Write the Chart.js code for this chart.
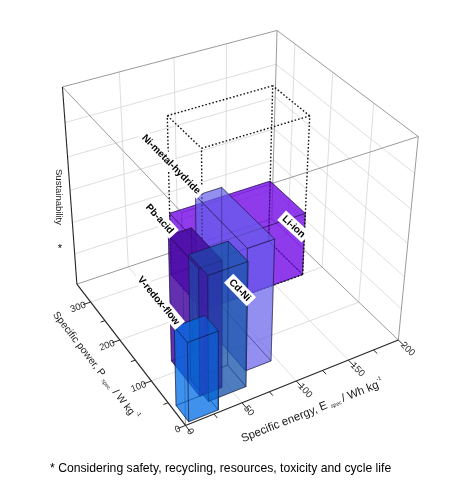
<!DOCTYPE html>
<html><head><meta charset="utf-8">
<script src="https://cdn.jsdelivr.net/npm/chart.js@4.4.1/dist/chart.umd.min.js"></script>
<style>html,body{margin:0;padding:0;background:#fff}#wrap{width:452px;height:482px;position:relative}</style>
</head><body><div id="wrap"><canvas id="c"></canvas></div>
<script>
// ---------------- data ----------------
const categories     = ['V-redox-flow', 'Pb-acid', 'Cd-Ni', 'Ni-metal-hydride', 'Li-ion'];
const energyMin      = [4, 25, 28, 71, 78];       // Wh/kg
const energyMax      = [30, 45, 62, 95, 179];
const powerMin       = [4, 40, 25, 53, 199];      // W/kg
const powerMax       = [40, 123, 76, 195, 300];
const sustainability = [2.4, 3.8, 3.75, 3.7, 2.0];
const liIonPotential = 4.95;                       // dotted box (Li-ion)
const energyTicks    = [0, 50, 100, 150, 200];
const powerTicks     = [0, 100, 200, 300];
const energyRange    = [0, 200];
const powerRange     = [0, 350];
const sustainRange   = [0, 6];
const sustainGrid    = [1, 2, 3, 4, 5];

// ---------------- layout / style ----------------
const FONT = '"Liberation Sans", Arial, Helvetica, sans-serif';
const boxColors = ['rgba(0,110,230,0.5)', 'rgba(70,10,160,0.6)', 'rgba(25,85,170,0.52)', 'rgba(100,95,235,0.45)', 'rgba(115,10,230,0.55)'];
// camera calibration: 3D frame points -> page position (E, P, Z, px, py)
const CAMERA_FIT = [
  [0,0,0,187,425.5],[50,0,0,243.3,401.7],[100,0,0,296.7,380.7],[150,0,0,348.3,360.7],[200,0,0,398,340],
  [0,100,0,148.3,380.7],[0,200,0,118.3,340.7],[0,300,0,90,302.7],[0,350,0,78.8,284],
  [0,350,3,70.7,190],[0,350,6,62.3,87],[200,350,6,276.7,30],[200,0,6,418.3,137.3],[200,0,3,408,243.3]
];

function fitCamera(){
  const A=[], b=[];
  for (const [E,P,Z,X,Y] of CAMERA_FIT){
    const u=E/energyRange[1], v=P/powerRange[1], w=Z/sustainRange[1];
    A.push([u,v,w,1,0,0,0,0,-X*u,-X*v,-X*w]); b.push(X);
    A.push([0,0,0,0,u,v,w,1,-Y*u,-Y*v,-Y*w]); b.push(Y);
  }
  const n=11, M=[...Array(n)].map(()=>Array(n+1).fill(0));
  for (let r=0;r<A.length;r++) for (let i=0;i<n;i++){ for (let j=0;j<n;j++) M[i][j]+=A[r][i]*A[r][j]; M[i][n]+=A[r][i]*b[r]; }
  for (let i=0;i<n;i++){
    let p=i; for (let k=i+1;k<n;k++) if (Math.abs(M[k][i])>Math.abs(M[p][i])) p=k;
    [M[i],M[p]]=[M[p],M[i]];
    for (let k=0;k<n;k++) if (k!==i){ const f=M[k][i]/M[i][i]; for (let j=i;j<=n;j++) M[k][j]-=f*M[i][j]; }
  }
  return M.map((row,i)=>row[n]/row[i]);
}
const cam = fitCamera();
function proj(E,P,Z){
  const u=E/energyRange[1], v=P/powerRange[1], w=Z/sustainRange[1], m=cam;
  const den=m[8]*u+m[9]*v+m[10]*w+1;
  return {x:(m[0]*u+m[1]*v+m[2]*w+m[3])/den, y:(m[4]*u+m[5]*v+m[6]*w+m[7])/den, d:den};
}

// ---------------- datasets ----------------
const layers = [];   // in drawing order (first = bottom)
function line3(pts, color, width, dash){
  layers.push({type:'line', data:pts.map(p=>{const q=proj(...p); return {x:q.x,y:q.y};}),
    borderColor:color, borderWidth:width, borderDash:dash||[], pointRadius:0, fill:false, tension:0});
}
const GRID='#d6d6d6', FRAME='#8e8e8e', AX='#262626';
const [E0,E1]=energyRange, [P0,P1]=powerRange, [Z0,Z1]=sustainRange;
// floor grid
[50,100,150].forEach(e=>line3([[e,P0,0],[e,P1,0]],GRID,0.8));
[100,200,300].forEach(p=>line3([[E0,p,0],[E1,p,0]],GRID,0.8));
// back-left wall (P = max)
[50,100,150].forEach(e=>line3([[e,P1,Z0],[e,P1,Z1]],GRID,0.8));
sustainGrid.forEach(z=>line3([[E0,P1,z],[E1,P1,z]],GRID,0.8));
// back-right wall (E = max)
[100,200,300].forEach(p=>line3([[E1,p,Z0],[E1,p,Z1]],GRID,0.8));
sustainGrid.forEach(z=>line3([[E1,P0,z],[E1,P1,z]],GRID,0.8));
// frame
[[[E0,P1,Z1],[E1,P1,Z1]],[[E1,P1,Z1],[E1,P0,Z1]],[[E0,P1,Z1],[E0,P0,Z1]],[[E1,P0,Z1],[E0,P0,Z1]],
 [[E1,P1,Z0],[E1,P1,Z1]],[[E1,P0,Z0],[E1,P0,Z1]],[[E0,P0,Z0],[E0,P0,Z1]],
 [[E0,P1,Z0],[E1,P1,Z0]],[[E1,P1,Z0],[E1,P0,Z0]]].forEach(s=>line3(s,FRAME,0.9));
line3([[E0,P1,Z0],[E0,P1,Z1]],AX,1.1);
// axes + ticks
line3([[E0,P0,0],[E1,P0,0]],AX,1.2);
line3([[E0,P0,0],[E0,P1,0]],AX,1.2);
for (let e=0;e<=E1;e+=25) line3([[e,0,0],[e,e%50===0?-16:-9,0]],AX,1);
for (let p=0;p<=300;p+=50) line3([[0,p,0],[p%100===0?-7:-4,p,0]],AX,1);

// boxes (sorted back to front)
const items=[];
function addFace(c, color){
  const q=c.map(p=>proj(...p));
  const d=q.reduce((s,a)=>s+a.d,0)/q.length;
  items.push({d, ds:{type:'line', data:[...q,q[0]].map(a=>({x:a.x,y:a.y})), fill:'shape',
    backgroundColor:color, borderColor:'rgba(15,15,40,0.6)', borderWidth:0.7, pointRadius:0, tension:0}});
}
function corners(e0,e1,p0,p1,z0,z1){
  return [
    [[e0,p0,z0],[e1,p0,z0],[e1,p1,z0],[e0,p1,z0]],
    [[e0,p0,z1],[e1,p0,z1],[e1,p1,z1],[e0,p1,z1]],
    [[e0,p0,z0],[e1,p0,z0],[e1,p0,z1],[e0,p0,z1]],
    [[e0,p1,z0],[e1,p1,z0],[e1,p1,z1],[e0,p1,z1]],
    [[e0,p0,z0],[e0,p1,z0],[e0,p1,z1],[e0,p0,z1]],
    [[e1,p0,z0],[e1,p1,z0],[e1,p1,z1],[e1,p0,z1]]];
}
categories.forEach((name,i)=>{
  corners(energyMin[i],energyMax[i],powerMin[i],powerMax[i],0,sustainability[i]).forEach(f=>addFace(f,boxColors[i]));
});
// dotted potential box for Li-ion
{
  const i=categories.indexOf('Li-ion');
  const e0=energyMin[i], e1=energyMax[i], p0=powerMin[i], p1=powerMax[i], z1=liIonPotential;
  const edges=[];
  [0,z1].forEach(z=>{edges.push([[e0,p0,z],[e1,p0,z]],[[e1,p0,z],[e1,p1,z]],[[e1,p1,z],[e0,p1,z]],[[e0,p1,z],[e0,p0,z]]);});
  [[e0,p0],[e1,p0],[e1,p1],[e0,p1]].forEach(([e,p])=>edges.push([[e,p,0],[e,p,z1]]));
  edges.forEach(s=>{
    const a=proj(...s[0]), b=proj(...s[1]);
    items.push({d:(a.d+b.d)/2-0.001, ds:{type:'line', data:[{x:a.x,y:a.y},{x:b.x,y:b.y}], borderColor:'#111',
      borderWidth:1.4, borderDash:[1.6,2.0], pointRadius:0, fill:false, tension:0}});
  });
}
items.sort((a,b)=>b.d-a.d).forEach(it=>layers.push(it.ds));
layers.forEach((ds,k)=>{ds.order=-k;});

// ---------------- texts ----------------
const labelPlacement = {
  'V-redox-flow':    {corner:'topLeft'},
  'Pb-acid':         {corner:'topLeft'},
  'Ni-metal-hydride':{corner:'topLeft'},
  'Cd-Ni':           {corner:'topRight', dx:-8, dy:28.5},
  'Li-ion':          {corner:'topRight', dx:-11.5, dy:13}
};
function rich(ctx, parts, cx, cy, angle){
  ctx.save(); ctx.translate(cx,cy); ctx.rotate(angle);
  let total=0;
  parts.forEach(p=>{ctx.font=`${p.s}px ${FONT}`; p.w=ctx.measureText(p.t).width; total+=p.w;});
  let x=-total/2; ctx.textBaseline='middle'; ctx.fillStyle='#1a1a1a';
  parts.forEach(p=>{ctx.font=`${p.s}px ${FONT}`; ctx.fillText(p.t,x,p.dy||0); x+=p.w;});
  ctx.restore();
}
function dirAngle(a,b){ return Math.atan2(b.y-a.y,b.x-a.x); }
const textPlugin = {
  id:'texts',
  afterDraw(chart){
    const ctx=chart.ctx, sx=chart.scales.x, sy=chart.scales.y;
    const P=(E,Pw,Z)=>{const q=proj(E,Pw,Z); return {x:sx.getPixelForValue(q.x), y:sy.getPixelForValue(q.y)};};
    ctx.save();
    // energy tick labels
    ctx.fillStyle='#2a2a2a'; ctx.font=`9.5px ${FONT}`; ctx.textBaseline='middle';
    energyTicks.forEach(e=>{
      const a=P(e,-9,0), b=P(e,-30,0);
      ctx.save(); ctx.translate(a.x,a.y); ctx.rotate(dirAngle(a,b)); ctx.textAlign='left'; ctx.fillText(String(e),0,0); ctx.restore();
    });
    // power tick labels
    powerTicks.forEach(p=>{
      const a=P(-5,p,0), b=P(20,p,0);
      ctx.save(); ctx.translate(a.x,a.y); ctx.rotate(dirAngle(a,b)); ctx.textAlign='right'; ctx.fillText(String(p),0,1); ctx.restore();
    });
    // axis titles
    {
      const a=P(100,0,0), b=P(140,0,0);
      rich(ctx,[{t:'Specific energy, E',s:11.5},{t:'  spec ',s:5.5,dy:3},{t:'/ Wh kg',s:11.5},{t:'-1',s:5.5,dy:-5}],a.x+16,a.y+30,dirAngle(a,b));
    }
    {
      const a=P(0,175,0), b=P(0,140,0);
      rich(ctx,[{t:'Specific power, P',s:10.3},{t:'  spec ',s:5.5,dy:3},{t:' / W kg',s:10.3},{t:' -1',s:5.5,dy:-5}],a.x-32,a.y+16,dirAngle(a,b));
    }
    // sustainability title
    ctx.save(); ctx.translate(59,197); ctx.rotate(Math.PI/2); ctx.font=`9.5px ${FONT}`; ctx.fillStyle='#1a1a1a';
    ctx.textAlign='center'; ctx.textBaseline='middle'; ctx.fillText('Sustainability',0,0); ctx.restore();
    ctx.font=`11px ${FONT}`; ctx.textAlign='center'; ctx.fillStyle='#000'; ctx.fillText('*',60,249);
    // battery labels
    categories.forEach((name,i)=>{
      const lp=labelPlacement[name];
      const e0=energyMin[i], e1=energyMax[i], p0=powerMin[i], p1=powerMax[i], z=sustainability[i];
      const c = lp.corner==='topLeft' ? [e0,p1,z] : [e1,p0,z];
      const a=P(c[0],c[1],c[2]), b=P(c[0],c[1]-25,c[2]);
      const ang=dirAngle(a,b);
      ctx.font=`bold 10px ${FONT}`;
      const w=ctx.measureText(name).width, pad=3;
      let cx, cy;
      if (lp.corner==='topLeft'){
        const L=w/2+pad-3, S=5;
        cx=a.x-Math.cos(ang)*L+Math.sin(ang)*S; cy=a.y-Math.sin(ang)*L-Math.cos(ang)*S;
      } else { cx=a.x+lp.dx; cy=a.y+lp.dy; }
      ctx.save(); ctx.translate(cx,cy); ctx.rotate(ang);
      ctx.fillStyle='#fff'; ctx.fillRect(-w/2-pad,-6.5,w+2*pad,13);
      ctx.fillStyle='#000'; ctx.textAlign='center'; ctx.textBaseline='middle'; ctx.fillText(name,0,0.5);
      ctx.restore();
    });
    // footnote
    ctx.font=`12.2px ${FONT}`; ctx.fillStyle='#000'; ctx.textAlign='left'; ctx.textBaseline='middle';
    ctx.fillText('* Considering safety, recycling, resources, toxicity and cycle life',50,469);
    ctx.restore();
  }
};

new Chart(document.getElementById('c'), {
  type:'line',
  data:{datasets:layers},
  options:{
    responsive:true, maintainAspectRatio:false, animation:false, events:[],
    layout:{padding:0},
    scales:{x:{type:'linear',min:0,max:452,display:false}, y:{type:'linear',min:0,max:482,reverse:true,display:false}},
    plugins:{legend:{display:false}, tooltip:{enabled:false}},
    elements:{line:{borderJoinStyle:'miter'}}
  },
  plugins:[textPlugin]
});
</script></body></html>
